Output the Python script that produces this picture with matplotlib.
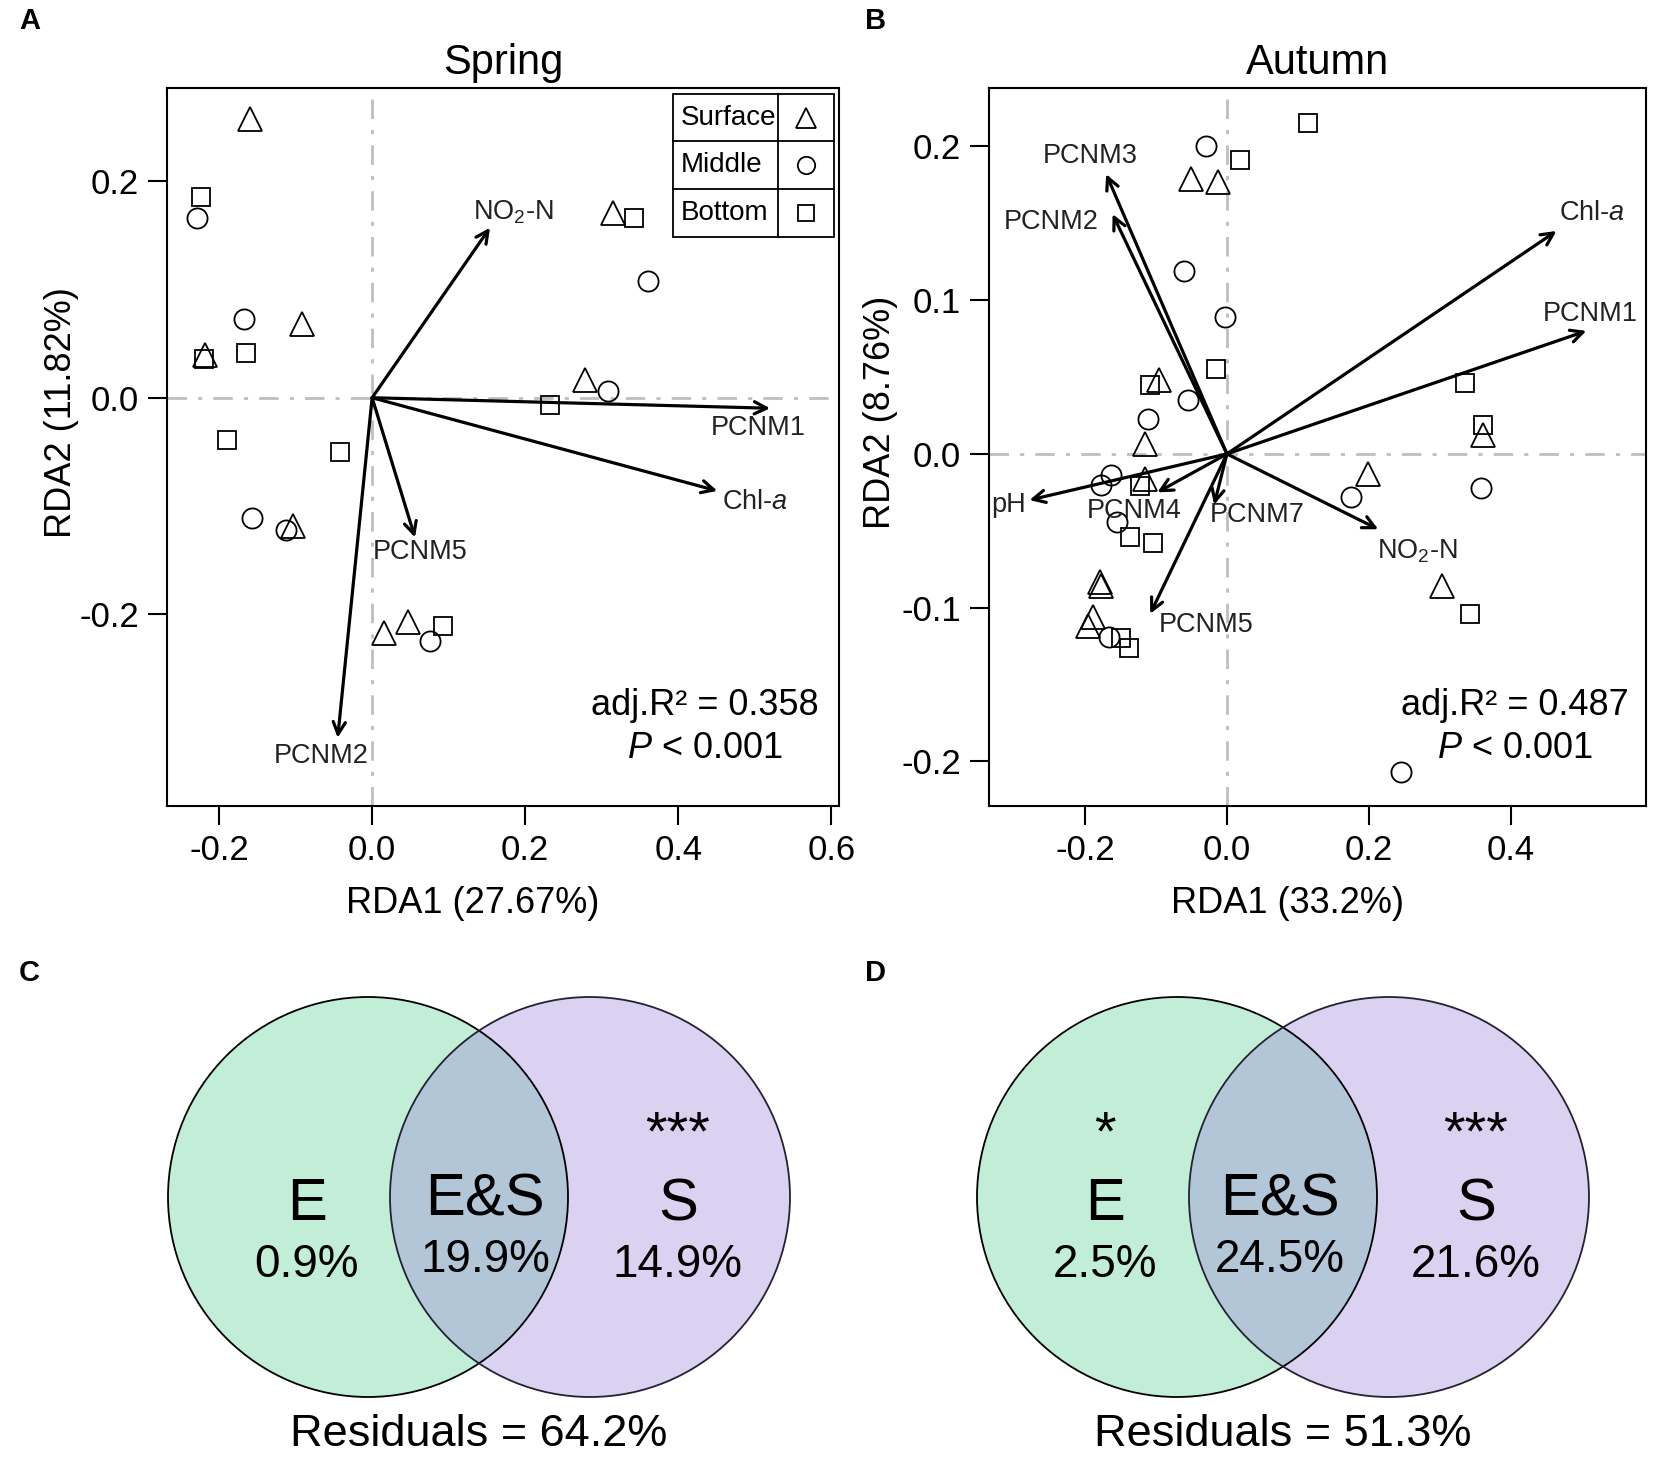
import numpy as np
import matplotlib
matplotlib.use('Agg')
import matplotlib.pyplot as plt
from matplotlib.patches import Circle, Rectangle
from matplotlib import rcParams

rcParams['font.family'] = ['Liberation Sans', 'DejaVu Sans']
rcParams['mathtext.fontset'] = 'custom'
rcParams['mathtext.rm'] = 'Liberation Sans'
rcParams['mathtext.it'] = 'Liberation Sans:italic'

# ---- Spring RDA site scores ----
spr_surface_x = [-0.159, -0.219, -0.092, 0.315, 0.278, -0.104, 0.016, 0.047]
spr_surface_y = [0.257, 0.039, 0.068, 0.171, 0.016, -0.118, -0.217, -0.207]
spr_middle_x = [-0.229, -0.168, 0.360, 0.308, -0.157, -0.112, 0.076]
spr_middle_y = [0.166, 0.073, 0.108, 0.006, -0.111, -0.122, -0.225]
spr_bottom_x = [-0.223, -0.220, -0.165, 0.342, 0.232, -0.189, -0.042, 0.093]
spr_bottom_y = [0.185, 0.036, 0.041, 0.166, -0.007, -0.039, -0.050, -0.211]

spr_vars = ['NO$_2$-N', 'PCNM1', 'Chl-$\\mathit{a}$', 'PCNM5', 'PCNM2']
spr_arrow_x = [0.154, 0.520, 0.451, 0.056, -0.045]
spr_arrow_y = [0.157, -0.0097, -0.086, -0.129, -0.314]
spr_label_x = [0.184, 0.504, 0.500, 0.063, -0.066]
spr_label_y = [0.171, -0.0275, -0.096, -0.142, -0.331]

# ---- Autumn RDA site scores ----
aut_surface_x = [-0.051, -0.012, -0.095, -0.115, -0.115, 0.360, 0.199, 0.303,
                 -0.179, -0.178, -0.188, -0.196]
aut_surface_y = [0.179, 0.177, 0.048, 0.0066, -0.016, 0.012, -0.013, -0.086,
                 -0.083, -0.086, -0.106, -0.112]
aut_middle_x = [-0.030, -0.061, -0.003, -0.055, -0.111, -0.163, -0.177, -0.155,
                0.175, 0.357, -0.166, 0.245]
aut_middle_y = [0.200, 0.119, 0.089, 0.035, 0.023, -0.014, -0.020, -0.044,
                -0.028, -0.022, -0.119, -0.207]
aut_bottom_x = [0.114, 0.019, -0.016, -0.108, 0.335, 0.360, -0.122, -0.136,
                -0.104, 0.342, -0.149, -0.138]
aut_bottom_y = [0.215, 0.191, 0.055, 0.045, 0.046, 0.019, -0.021, -0.054,
                -0.058, -0.104, -0.120, -0.126]

aut_vars = ['PCNM3', 'PCNM2', 'Chl-$\\mathit{a}$', 'PCNM1', 'pH', 'PCNM4',
            'PCNM7', 'NO$_2$-N', 'PCNM5']
aut_arrow_x = [-0.170, -0.161, 0.464, 0.506, -0.278, -0.098, -0.018, 0.213, -0.108]
aut_arrow_y = [0.182, 0.156, 0.145, 0.080, -0.030, -0.025, -0.033, -0.049, -0.104]
aut_label_x = [-0.193, -0.248, 0.514, 0.511, -0.307, -0.131, 0.043, 0.268, -0.029]
aut_label_y = [0.194, 0.151, 0.157, 0.091, -0.033, -0.037, -0.040, -0.063, -0.111]

# ---- variation partitioning (E, E&S, S) ----
venn_parts = ['E', 'E&S', 'S']
spr_pct = [0.9, 19.9, 14.9]
spr_resid = 64.2
spr_stars = ['', '', '***']
aut_pct = [2.5, 24.5, 21.6]
aut_resid = 51.3
aut_stars = ['*', '', '***']

W, H = 1654, 1458
fig = plt.figure(figsize=(W / 100, H / 100), dpi=100)


def rda_panel(rect, title, xlab, ylab, xlim, ylim, xticks, yticks, groups,
              names, ax_x, ax_y, lab_x, lab_y, r2, ylpad):
    ax = fig.add_axes(rect)
    ax.set_xlim(*xlim)
    ax.set_ylim(*ylim)
    ax.axhline(0, color='#bebebe', lw=2, ls=(0, (7, 4, 1.5, 4)), zorder=0)
    ax.axvline(0, color='#bebebe', lw=2, ls=(0, (7, 4, 1.5, 4)), zorder=0)
    marks = [('^', 17), ('o', 14.5), ('s', 13.5)]
    for (gx, gy), (m, ms) in zip(groups, marks):
        ax.plot(gx, gy, ls='none', marker=m, ms=ms, mfc='none', mec='k', mew=1.3)
    for nm, x, y, lx, ly in zip(names, ax_x, ax_y, lab_x, lab_y):
        ax.annotate('', xy=(x, y), xytext=(0, 0),
                    arrowprops=dict(arrowstyle='->', lw=2.3, color='k',
                                    mutation_scale=22, shrinkA=0, shrinkB=0))
        ax.text(lx, ly, nm, fontsize=19.5, ha='center', va='center', color='#222222')
    ax.text(0.80, 0.14, 'adj.R\u00b2 = %s' % r2, transform=ax.transAxes,
            fontsize=26, ha='center', va='center')
    ax.text(0.80, 0.08, '$\\mathit{P}$ < 0.001', transform=ax.transAxes,
            fontsize=26, ha='center', va='center')
    ax.set_xticks(xticks)
    ax.set_yticks(yticks)
    ax.set_xticklabels(['%.1f' % t for t in xticks])
    ax.set_yticklabels(['%.1f' % t for t in yticks])
    ax.tick_params(direction='out', length=14, width=1.5, labelsize=25, pad=6)
    for s in ax.spines.values():
        s.set_linewidth(1.5)
    ax.set_title(title, fontsize=30, pad=10)
    ax.set_xlabel(xlab, fontsize=26, labelpad=14)
    ax.set_ylabel(ylab, fontsize=26, labelpad=ylpad)
    ax.xaxis.label.set_x(0.455)
    ax.yaxis.label.set_y(0.548)
    return ax


top, bot = 88, 806
axA = rda_panel([167 / W, 1 - bot / H, (839 - 167) / W, (bot - top) / H],
                'Spring', 'RDA1 (27.67%)', 'RDA2 (11.82%)',
                (-0.268, 0.61), (-0.377, 0.286),
                [-0.2, 0.0, 0.2, 0.4, 0.6], [-0.2, 0.0, 0.2],
                [(spr_surface_x, spr_surface_y), (spr_middle_x, spr_middle_y),
                 (spr_bottom_x, spr_bottom_y)],
                spr_vars, spr_arrow_x, spr_arrow_y, spr_label_x, spr_label_y,
                '0.358', 0)

axB = rda_panel([989 / W, 1 - bot / H, (1646 - 989) / W, (bot - top) / H],
                'Autumn', 'RDA1 (33.2%)', 'RDA2 (8.76%)',
                (-0.335, 0.59), (-0.229, 0.238),
                [-0.2, 0.0, 0.2, 0.4], [-0.2, -0.1, 0.0, 0.1, 0.2],
                [(aut_surface_x, aut_surface_y), (aut_middle_x, aut_middle_y),
                 (aut_bottom_x, aut_bottom_y)],
                aut_vars, aut_arrow_x, aut_arrow_y, aut_label_x, aut_label_y,
                '0.487', 2.5)

# legend table in panel A
x0, x1, x2 = 0.753, 0.909, 0.992
ys = [0.991, 0.926, 0.860, 0.792]
axA.add_patch(Rectangle((x0, ys[3]), x2 - x0, ys[0] - ys[3], transform=axA.transAxes,
                        fill=False, ec='k', lw=1.3, clip_on=False))
axA.plot([x1, x1], [ys[3], ys[0]], color='k', lw=1.3, transform=axA.transAxes)
for yy in ys[1:3]:
    axA.plot([x0, x2], [yy, yy], color='k', lw=1.3, transform=axA.transAxes)
for i, (lab, m, ms) in enumerate([('Surface', '^', 15), ('Middle', 'o', 12.5),
                                  ('Bottom', 's', 12)]):
    yc = (ys[i] + ys[i + 1]) / 2
    axA.text(x0 + 0.011, yc, lab, transform=axA.transAxes, fontsize=20,
             ha='left', va='center')
    axA.plot([(x1 + x2) / 2], [yc], marker=m, ms=ms, mfc='none', mec='k', mew=1.3,
             transform=axA.transAxes)

# overlay in pixel coordinates for letters and Venn diagrams
ov = fig.add_axes([0, 0, 1, 1])
ov.set_xlim(0, W)
ov.set_ylim(H, 0)
ov.axis('off')
ov.patch.set_visible(False)

for lx, ly, letter in [(19, 21, 'A'), (865, 21, 'B'), (19, 973, 'C'), (865, 973, 'D')]:
    ov.text(lx, ly, letter, fontsize=21, fontweight='bold', ha='left', va='center')


def venn(cx1, cx2, cy, text_x, pct, resid, stars):
    r = 200
    c1 = Circle((cx1, cy), r, fc='#c2eed8', ec='none')
    c2 = Circle((cx2, cy), r, fc='#dbd2f2', ec='none')
    ov.add_patch(c1)
    ov.add_patch(c2)
    ov3 = Circle((cx2, cy), r, fc='#b3c6d7', ec='none')
    ov.add_patch(ov3)
    ov3.set_clip_path(c1)
    ov.add_patch(Circle((cx1, cy), r, fill=False, ec='k', lw=1.3))
    ov.add_patch(Circle((cx2, cy), r, fill=False, ec='#222233', lw=1.3))
    for x, part, p, st in zip(text_x, venn_parts, pct, stars):
        dy = -5 if part == 'E&S' else 0
        ov.text(x, cy + 8 + dy, part, fontsize=43, ha='center', va='center')
        ov.text(x, cy + 68 + dy, '%.1f%%' % p, fontsize=33, ha='center', va='center')
        if st:
            ov.text(x, cy - 62, st, fontsize=40, ha='center', va='center')
    ov.text((cx1 + cx2) / 2, 1435, 'Residuals = %.1f%%' % resid, fontsize=32.5,
            ha='center', va='center')


venn(368, 590, 1197, [307, 485, 678], spr_pct, spr_resid, spr_stars)
venn(1177, 1389, 1197, [1105, 1280, 1476], aut_pct, aut_resid, aut_stars)

fig.savefig('out.png', dpi=100, facecolor='w')
